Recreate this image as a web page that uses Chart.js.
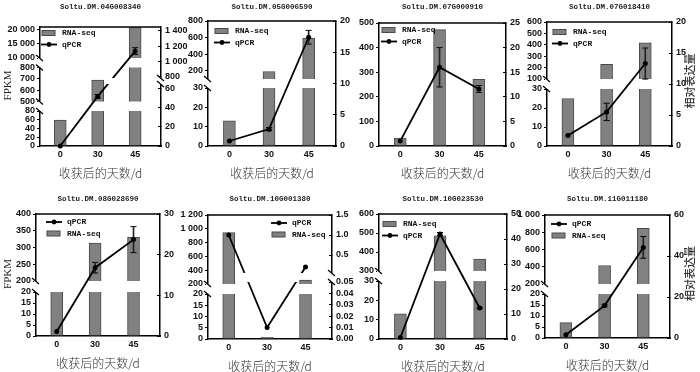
<!DOCTYPE html>
<html>
<head>
<meta charset="utf-8">
<script src="https://cdn.jsdelivr.net/npm/chart.js@4.4.1/dist/chart.umd.min.js"></script>
<style>
  body { margin: 0; width: 700px; height: 372px; background: #fff; position: relative; overflow: hidden; }
  canvas { position: absolute; }
</style>
</head>
<body>
<script>
// sampling days
const days = ['0', '30', '45'];
const genes = ['Soltu.DM.04G008340', 'Soltu.DM.05G006590', 'Soltu.DM.07G000910', 'Soltu.DM.07G018410',
               'Soltu.DM.08G028690', 'Soltu.DM.10G001380', 'Soltu.DM.10G023530', 'Soltu.DM.11G011180'];

// RNA-seq FPKM (0, 30, 45 d)
const rnaSeq1 = [59, 690, 20800];
const rnaSeq2 = [13, 190, 595];
const rnaSeq3 = [32, 473, 271];
const rnaSeq4 = [25, 229, 417];
const rnaSeq5 = [150, 313, 330];
const rnaSeq6 = [945, 0.7, 258];
const rnaSeq7 = [13, 485, 363];
const rnaSeq8 = [7, 415, 845];

// qPCR relative expression and error
const qpcr1 = [0, 52, 1133];   const qpcrErr1 = [0, 2, 45];
const qpcr2 = [0.8, 2.7, 17.4]; const qpcrErr2 = [0, 0.25, 1.1];
const qpcr3 = [1.0, 16.0, 11.6]; const qpcrErr3 = [0, 4.0, 0.7];
const qpcr4 = [1.7, 5.5, 13.3]; const qpcrErr4 = [0, 1.4, 2.5];
const qpcr5 = [1.1, 16.8, 23.7]; const qpcrErr5 = [0, 1.3, 3.2];
const qpcr6 = [1.0, 0.01, 0.2]; const qpcrErr6 = [0, 0, 0];
const qpcr7 = [0.6, 42, 12.4];  const qpcrErr7 = [0, 0.6, 0.3];
const qpcr8 = [1.6, 15.8, 44.2]; const qpcrErr8 = [0, 0.6, 5.3];

// tick labels, one list per axis segment (below / above the break)
const leftTicks1 = [[0, 20, 40, 60, 80], [500, 600, 700, 800], [10000, 15000, 20000]];
const rightTicks1 = [[0, 20, 40, 60], [800, 1000, 1200, 1400]];
const leftTicks2 = [[0, 10, 20, 30], [200, 400, 600, 800]];
const rightTicks2 = [[0, 5, 10, 15, 20]];
const leftTicks3 = [[0, 100, 200, 300, 400, 500]];
const rightTicks3 = [[0, 5, 10, 15, 20, 25]];
const leftTicks4 = [[0, 10, 20, 30], [100, 200, 300, 400, 500, 600]];
const rightTicks4 = [[0, 5, 10, 15, 20]];
const leftTicks5 = [[0, 5, 10, 15, 20], [200, 250, 300, 350, 400]];
const rightTicks5 = [[0, 10, 20, 30]];
const leftTicks6 = [[0, 5, 10, 15, 20], [200, 400, 600, 800, 1000, 1200]];
const rightTicks6 = [[0, 0.01, 0.02, 0.03, 0.04, 0.05], [0.5, 1.0, 1.5]];
const leftTicks7 = [[0, 10, 20, 30], [300, 400, 500, 600]];
const rightTicks7 = [[0, 10, 20, 30, 40, 50]];
const leftTicks8 = [[0, 5, 10, 15, 20], [200, 400, 600, 800, 1000]];
const rightTicks8 = [[0, 20, 40, 60]];

// axis with breaks: each segment gets its own pixel share
class BrokenScale extends Chart.LinearScale {
  determineDataLimits() {
    const r = this.options.ranges;
    this.min = r[0][0];
    this.max = r[r.length - 1][1];
  }
  buildTicks() {
    const out = [];
    this.options.tickSets.forEach(set => set.forEach(v => out.push({ value: v })));
    return out;
  }
  segs() {
    const r = this.options.ranges, px = this.options.px, gap = this.options.gap || 0;
    const total = px.reduce((a, b) => a + b, 0) + gap * (px.length - 1);
    const k = (this.bottom - this.top) / total;
    const out = [];
    let y = this.bottom;
    r.forEach((rg, i) => {
      const h = px[i] * k;
      out.push({ min: rg[0], max: rg[1], p0: y, p1: y - h });
      y -= h + gap * k;
    });
    return out;
  }
  getPixelForValue(v) {
    const s = this.segs();
    for (let i = 0; i < s.length; i++) {
      const g = s[i];
      if (i > 0 && v < g.min) {
        const p = s[i - 1];
        return p.p1 + (v - p.max) / (g.min - p.max) * (g.p0 - p.p1);
      }
      if (v <= g.max || i === s.length - 1) {
        return g.p0 + (v - g.min) / (g.max - g.min) * (g.p1 - g.p0);
      }
    }
  }
  getValueForPixel(px) {
    const s = this.segs();
    for (let i = 0; i < s.length; i++) {
      const g = s[i];
      if (px >= g.p1 || i === s.length - 1) return g.min + (px - g.p0) / (g.p1 - g.p0) * (g.max - g.min);
    }
  }
}
BrokenScale.id = 'broken';
BrokenScale.defaults = {};
Chart.register(BrokenScale);

const fmt = v => v >= 1000 ? String(v).replace(/\B(?=(\d{3})+(?!\d))/g, ' ') : String(v);
const fmtSmall = v => v <= 0.05 ? v.toFixed(2) : v.toFixed(1);

const panels = [
  { gene: genes[0], rna: rnaSeq1, q: qpcr1, e: qpcrErr1, box: [40, 27, 161, 146],
    left: { ranges: [[0, 80], [500, 800], [10000, 21000]], px: [35, 34, 31], gap: 9.5, ticks: leftTicks1 },
    right: { ranges: [[0, 65], [780, 1450]], px: [62, 51], gap: 6, ticks: rightTicks1 },
    legend: { dx: 2, dy: 2, order: ['rna', 'q'] }, yLabel: true },
  { gene: genes[1], rna: rnaSeq2, q: qpcr2, e: qpcrErr2, box: [208, 21, 336, 146],
    left: { ranges: [[0, 30], [100, 800]], px: [58, 58], gap: 9, ticks: leftTicks2 },
    right: { ranges: [[0, 20]], px: [125], gap: 0, ticks: rightTicks2 },
    legend: { dx: 7, dy: 6, order: ['rna', 'q'] } },
  { gene: genes[2], rna: rnaSeq3, q: qpcr3, e: qpcrErr3, box: [379, 23, 506, 146],
    left: { ranges: [[0, 500]], px: [123], gap: 0, ticks: leftTicks3 },
    right: { ranges: [[0, 25]], px: [123], gap: 0, ticks: rightTicks3 },
    legend: { dx: 3, dy: 3, order: ['rna', 'q'] } },
  { gene: genes[3], rna: rnaSeq4, q: qpcr4, e: qpcrErr4, box: [547, 22, 672, 146],
    left: { ranges: [[0, 30], [100, 600]], px: [57, 57], gap: 10, ticks: leftTicks4 },
    right: { ranges: [[0, 20]], px: [124], gap: 0, ticks: rightTicks4 },
    legend: { dx: 6, dy: 6, order: ['rna', 'q'] }, rLabel: true },
  { gene: genes[4], rna: rnaSeq5, q: qpcr5, e: qpcrErr5, box: [36, 214, 160, 336],
    left: { ranges: [[0, 20], [200, 400]], px: [44, 67], gap: 11, ticks: leftTicks5 },
    right: { ranges: [[0, 30]], px: [122], gap: 0, ticks: rightTicks5 },
    legend: { dx: 11, dy: 4, order: ['q', 'rna'] }, yLabel: true },
  { gene: genes[5], rna: rnaSeq6, q: qpcr6, e: qpcrErr6, box: [208, 215, 332, 339],
    left: { ranges: [[0, 20], [200, 1200]], px: [45, 69], gap: 10, ticks: leftTicks6 },
    right: { ranges: [[0, 0.05], [0.05, 1.5]], px: [57, 58], gap: 9, ticks: rightTicks6, fmt: fmtSmall },
    legend: { dx: 64, dy: 4, order: ['q', 'rna'] } },
  { gene: genes[6], rna: rnaSeq7, q: qpcr7, e: qpcrErr7, box: [379, 214, 507, 339],
    left: { ranges: [[0, 30], [300, 600]], px: [58, 57], gap: 10, ticks: leftTicks7 },
    right: { ranges: [[0, 50]], px: [125], gap: 0, ticks: rightTicks7 },
    legend: { dx: 4, dy: 6, order: ['rna', 'q'] } },
  { gene: genes[7], rna: rnaSeq8, q: qpcr8, e: qpcrErr8, box: [545, 215, 670, 338],
    left: { ranges: [[0, 20], [200, 1000]], px: [44, 69], gap: 10, ticks: leftTicks8 },
    right: { ranges: [[0, 60]], px: [123], gap: 0, ticks: rightTicks8 },
    legend: { dx: 7, dy: 5, order: ['q', 'rna'] }, rLabel: true }
];

const tickFont = { family: 'Liberation Sans', size: 9, weight: 'bold' };
const BAR = '#818181', BAR_EDGE = '#4a4a4a';

// cut datasets at the breaks of the axis they belong to
const clipPlugin = {
  id: 'breakClip',
  beforeDatasetDraw(chart, args) {
    const sc = args.meta.vScale, a = chart.chartArea, ctx = chart.ctx;
    const s = sc.segs();
    ctx.save();
    ctx.beginPath();
    s.forEach((g, i) => {
      const bot = i === 0 ? g.p0 + 6 : g.p0;
      const top = i === s.length - 1 ? g.p1 - 6 : g.p1;
      ctx.rect(a.left - 8, top, a.right - a.left + 16, bot - top);
    });
    ctx.clip();
  },
  afterDatasetDraw(chart) {
    chart.ctx.restore();
  }
};

function decoPlugin(p, cx, rowTop, titleY) {
  return {
    id: 'deco',
    afterDraw(chart) {
      const ctx = chart.ctx, a = chart.chartArea;
      ctx.save();
      ctx.strokeStyle = '#000';
      ctx.lineWidth = 1.5;
      ctx.beginPath(); ctx.moveTo(a.left, a.top); ctx.lineTo(a.right, a.top); ctx.stroke();
      // breaks on the axis lines
      ['y', 'y1'].forEach(id => {
        const sc = chart.scales[id];
        const s = sc.segs();
        const ax = id === 'y' ? a.left : a.right;
        for (let i = 0; i < s.length - 1; i++) {
          const yLo = s[i].p1, yHi = s[i + 1].p0;
          ctx.fillStyle = '#fff';
          ctx.fillRect(ax - 2, yHi, 4, yLo - yHi);
          ctx.lineWidth = 1.2;
          [yLo, yHi].forEach(y => {
            ctx.beginPath(); ctx.moveTo(ax - 4, y - 3); ctx.lineTo(ax + 3, y + 3); ctx.stroke();
          });
        }
      });
      const mid = (a.left + a.right) / 2;
      ctx.fillStyle = '#222';
      ctx.textAlign = 'center';
      ctx.textBaseline = 'middle';
      ctx.font = 'bold 7.5px "Liberation Mono"';
      ctx.fillText(p.gene, mid, titleY - rowTop);
      ctx.fillStyle = '#333';
      ctx.font = '300 12px "Noto Sans CJK SC"';
      ctx.fillText('收获后的天数/d', mid, a.bottom + 27);
      if (p.yLabel) {
        ctx.save(); ctx.translate(8 - cx, (a.top + a.bottom) / 2 - 1); ctx.rotate(-Math.PI / 2);
        ctx.font = '11px "Liberation Serif"'; ctx.fillStyle = '#222';
        ctx.fillText('FPKM', 0, 0); ctx.restore();
      }
      if (p.rLabel) {
        ctx.save(); ctx.translate(690 - cx, (a.top + a.bottom) / 2 - 3); ctx.rotate(-Math.PI / 2);
        ctx.font = '500 11px "Noto Sans CJK SC"'; ctx.fillStyle = '#333';
        ctx.fillText('相对表达量', 0, 0); ctx.restore();
      }
      // legend
      const x0 = a.left + p.legend.dx;
      p.legend.order.forEach((k, i) => {
        const y = a.top + p.legend.dy + 4 + i * 11.5;
        if (k === 'rna') {
          ctx.fillStyle = BAR; ctx.fillRect(x0, y - 2.5, 13, 5);
          ctx.strokeStyle = BAR_EDGE; ctx.lineWidth = 1; ctx.strokeRect(x0, y - 2.5, 13, 5);
        } else {
          ctx.strokeStyle = '#000'; ctx.lineWidth = 1.8;
          ctx.beginPath(); ctx.moveTo(x0 - 1, y); ctx.lineTo(x0 + 15, y); ctx.stroke();
          ctx.fillStyle = '#000'; ctx.beginPath(); ctx.arc(x0 + 7, y, 2.4, 0, Math.PI * 2); ctx.fill();
        }
        ctx.fillStyle = '#111';
        ctx.textAlign = 'left';
        ctx.font = 'bold 8px "Liberation Mono"';
        ctx.fillText(k === 'rna' ? 'RNA-seq' : 'qPCR', x0 + 20, y);
      });
      ctx.restore();
    }
  };
}

function yAxis(cfg, side) {
  return {
    type: 'broken', position: side,
    ranges: cfg.ranges, px: cfg.px, gap: cfg.gap, tickSets: cfg.ticks,
    grid: { display: true, drawOnChartArea: false, drawTicks: true, tickLength: side === 'left' ? 3 : -3, color: '#000', lineWidth: 1 },
    border: { display: true, color: '#000', width: 1.5 },
    ticks: { autoSkip: false, font: tickFont, color: '#111', padding: side === 'left' ? 2 : 7,
             callback: v => (cfg.fmt || fmt)(v) },
    afterFit: s => { s.width = 45; }
  };
}

panels.forEach((p, n) => {
  const [l, t, r, b] = p.box;
  const rowTop = n < 4 ? 0 : 186;
  const titleY = n < 4 ? 7 : 199;
  const cx = l - 45, w = (r - l) + 90, h = 186;
  const cv = document.createElement('canvas');
  cv.width = w; cv.height = h;
  cv.style.left = cx + 'px'; cv.style.top = rowTop + 'px';
  cv.style.width = w + 'px'; cv.style.height = h + 'px';
  document.body.appendChild(cv);

  const pts = arr => arr.map((v, i) => ({ x: i, y: v }));
  const lo = p.q.map((v, i) => ({ x: i, y: p.e[i] > 0 ? v - p.e[i] : null }));
  const hi = p.q.map((v, i) => ({ x: i, y: p.e[i] > 0 ? v + p.e[i] : null }));
  const stem = p.q.map((v, i) => ({ x: i, y: p.e[i] > 0 ? [v - p.e[i], v + p.e[i]] : null }));
  const cap = d => ({ type: 'line', yAxisID: 'y1', data: d, showLine: false, pointStyle: 'line',
                      pointRadius: 3, pointBorderWidth: 1, pointBorderColor: '#000', clip: false, order: 1 });

  new Chart(cv, {
    data: {
      datasets: [
        { type: 'line', label: 'qPCR', yAxisID: 'y1', data: pts(p.q), borderColor: '#000', backgroundColor: '#000',
          borderWidth: 1.8, pointRadius: 2.5, pointBorderWidth: 0, tension: 0, clip: false, order: 0 },
        { type: 'bar', label: 'err', yAxisID: 'y1', data: stem, backgroundColor: '#222', barThickness: 1,
          grouped: false, order: 1 },
        cap(lo), cap(hi),
        { type: 'bar', label: 'RNA-seq', yAxisID: 'y', data: pts(p.rna), backgroundColor: BAR, borderColor: BAR_EDGE,
          borderWidth: 1, borderSkipped: false, barThickness: 12, grouped: false, order: 2 }
      ]
    },
    options: {
      responsive: false, animation: false, events: [],
      layout: { padding: { top: t - rowTop, left: 0, right: 0, bottom: 0 } },
      plugins: { legend: { display: false }, tooltip: { enabled: false } },
      scales: {
        x: {
          type: 'linear', min: -0.54, max: 2.69, offset: false,
          afterBuildTicks: s => { s.ticks = [0, 1, 2].map(v => ({ value: v })); },
          grid: { display: false, drawTicks: false, offset: false },
          border: { display: true, color: '#000', width: 1.5 },
          ticks: { autoSkip: false, font: tickFont, color: '#111', padding: 3, maxRotation: 0, callback: v => days[v] },
          afterFit: s => { s.height = h - (b - rowTop); }
        },
        y: yAxis(p.left, 'left'),
        y1: yAxis(p.right, 'right')
      }
    },
    plugins: [clipPlugin, decoPlugin(p, cx, rowTop, titleY)]
  });
});
</script>
</body>
</html>
